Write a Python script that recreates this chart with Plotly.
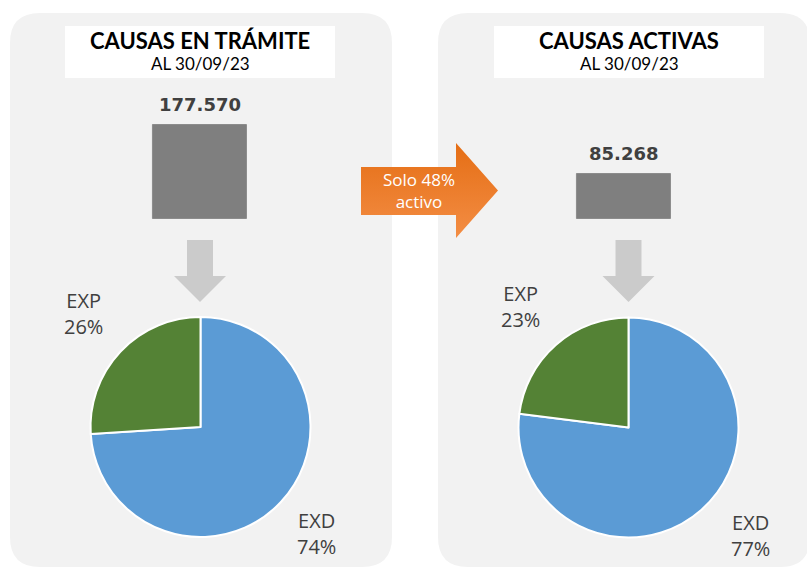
import plotly.graph_objects as go

# ---------------- data ----------------
panel_titles = ["CAUSAS EN TRÁMITE", "CAUSAS ACTIVAS"]
panel_subtitles = ["AL 30/09/23", "AL 30/09/23"]
totals = [177570, 85268]
pie_labels = ["EXD", "EXP"]
pie_left = [74, 26]
pie_right = [77, 23]
arrow_text = "Solo 48%<br>activo"

# ---------------- layout helpers (pixels -> paper) ----------------
W, H = 807, 568
def px(x):
    return x / W
def py(y):
    return 1 - y / H

PANEL = "#F2F2F2"
BAR = "#7F7F7F"
DARK = "#404040"
BLUE = "#5B9BD5"
GREEN = "#548235"
ARROW_GRAY = "#CBCBCB"

def rounded(x0, y0, x1, y1, r):
    pts = [
        f"M {px(x0+r)} {py(y0)}",
        f"L {px(x1-r)} {py(y0)}",
        f"Q {px(x1)} {py(y0)} {px(x1)} {py(y0+r)}",
        f"L {px(x1)} {py(y1-r)}",
        f"Q {px(x1)} {py(y1)} {px(x1-r)} {py(y1)}",
        f"L {px(x0+r)} {py(y1)}",
        f"Q {px(x0)} {py(y1)} {px(x0)} {py(y1-r)}",
        f"L {px(x0)} {py(y0+r)}",
        f"Q {px(x0)} {py(y0)} {px(x0+r)} {py(y0)}",
        "Z",
    ]
    return " ".join(pts)

def down_arrow(cx, top=240, shaft_bot=276, tip=302, sw=13, hw=26):
    p = [(cx - sw, top), (cx + sw, top), (cx + sw, shaft_bot), (cx + hw, shaft_bot),
         (cx, tip), (cx - hw, shaft_bot), (cx - sw, shaft_bot)]
    return "M " + " L ".join(f"{px(a)} {py(b)}" for a, b in p) + " Z"

shapes = []
# panels
shapes.append(dict(type="path", xref="paper", yref="paper", path=rounded(10, 13, 392, 567, 30),
                   fillcolor=PANEL, line=dict(width=0), layer="below"))
shapes.append(dict(type="path", xref="paper", yref="paper", path=rounded(438, 13, 810, 567, 30),
                   fillcolor=PANEL, line=dict(width=0), layer="below"))
# title boxes
for x0, x1 in [(65, 335), (494, 764)]:
    shapes.append(dict(type="rect", xref="paper", yref="paper", x0=px(x0), x1=px(x1),
                       y0=py(78), y1=py(26), fillcolor="white", line=dict(width=0), layer="below"))
# down arrows
for cx in [200, 628.5]:
    shapes.append(dict(type="path", xref="paper", yref="paper", path=down_arrow(cx),
                       fillcolor=ARROW_GRAY, line=dict(width=0), layer="below"))

fig = go.Figure()

# ---------------- bars ----------------
unit = 623.5 - 200.0
xr = (-0.3, 1.3)
x_start = 200 - 0.3 * unit
x_end = x_start + (xr[1] - xr[0]) * unit
base_y, top_y = 219, 100
bar_px = 94  # pixel height of first bar
ymax = totals[0] * (base_y - top_y) / bar_px

fig.add_trace(go.Bar(
    x=panel_titles, y=totals, width=94 / unit,
    marker=dict(color=BAR, line=dict(color="#8C8C8C", width=1)),
    hoverinfo="skip", showlegend=False, xaxis="x", yaxis="y"))

# ---------------- pies ----------------
def pie_domain(cx, cy, r):
    return dict(x=[px(cx - r), px(cx + r)], y=[py(cy + r), py(cy - r)])

for vals, (cx, cy) in [(pie_left, (200.5, 427)), (pie_right, (628.5, 427.5))]:
    fig.add_trace(go.Pie(
        labels=pie_labels, values=vals, sort=False, direction="clockwise", rotation=0,
        marker=dict(colors=[BLUE, GREEN], line=dict(color="white", width=2)),
        textinfo="none", hoverinfo="skip", showlegend=False,
        domain=pie_domain(cx, cy, 110)))

# ---------------- orange arrow (gradient fill) ----------------
ax_pts = [(361, 167), (456, 167), (456, 143), (498, 190.5), (456, 238), (456, 215), (361, 215), (361, 167)]
fig.add_trace(go.Scatter(
    x=[p[0] for p in ax_pts], y=[p[1] for p in ax_pts], mode="lines", fill="toself",
    line=dict(width=0, color="rgba(0,0,0,0)"),
    fillgradient=dict(type="vertical", colorscale=[[0, "#F38D44"], [1, "#E56E15"]]),
    hoverinfo="skip", showlegend=False, xaxis="x2", yaxis="y2"))

annotations = []
# titles
for t, s, cx in zip(panel_titles, panel_subtitles, [200, 629]):
    annotations.append(dict(text=f"<b>{t}</b>", x=px(cx), y=py(40), xref="paper", yref="paper",
                            showarrow=False, xanchor="center", yanchor="middle",
                            font=dict(family="Lato", size=22, color="black")))
    annotations.append(dict(text=s, x=px(cx), y=py(63.5), xref="paper", yref="paper",
                            showarrow=False, xanchor="center", yanchor="middle",
                            font=dict(family="Lato", size=17, color="black")))
# bar values
for cat, v in zip(panel_titles, totals):
    annotations.append(dict(text="<b>" + f"{v:,}".replace(",", ".") + "</b>", x=cat, y=v,
                            xref="x", yref="y", showarrow=False, xanchor="center", yanchor="bottom",
                            yshift=8, font=dict(family="DejaVu Sans", size=18, color=DARK)))
# pie labels
label_pos = [
    [(316, 533), (83, 313)],
    [(750, 535), (520, 306.5)],
]
for vals, positions in zip([pie_left, pie_right], label_pos):
    for lab, v, (lx, ly) in zip(pie_labels, vals, positions):
        annotations.append(dict(text=f"{lab}<br>{v}%", x=px(lx), y=py(ly), xref="paper", yref="paper",
                                showarrow=False, xanchor="center", yanchor="middle",
                                font=dict(family="Open Sans", size=20, color=DARK)))
# arrow text
annotations.append(dict(text=arrow_text, x=px(419), y=py(191), xref="paper", yref="paper",
                        showarrow=False, xanchor="center", yanchor="middle",
                        font=dict(family="Open Sans", size=17, color="white")))

fig.update_layout(
    width=W, height=H, margin=dict(l=0, r=0, t=0, b=0),
    paper_bgcolor="white", plot_bgcolor="rgba(0,0,0,0)",
    shapes=shapes, annotations=annotations,
    xaxis=dict(domain=[px(x_start), px(x_end)], range=list(xr), type="category",
               visible=False, fixedrange=True),
    yaxis=dict(domain=[py(base_y), py(top_y)], range=[0, ymax], visible=False, fixedrange=True),
    xaxis2=dict(domain=[0, 1], range=[0, W], visible=False, fixedrange=True, anchor="y2"),
    yaxis2=dict(domain=[0, 1], range=[H, 0], visible=False, fixedrange=True, anchor="x2"),
    bargap=0,
)

fig.write_html("out.html", config={"displayModeBar": False},
               post_script="document.body.style.margin='0';document.body.style.overflow='hidden';")
